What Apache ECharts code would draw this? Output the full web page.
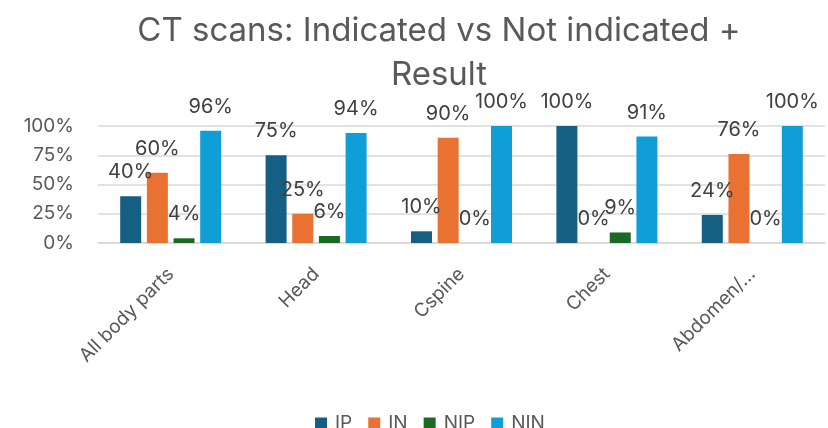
<!DOCTYPE html>
<html>
<head>
<meta charset="utf-8">
<script src="https://cdn.jsdelivr.net/npm/echarts@6/dist/echarts.min.js"></script>
<style>
html, body { margin: 0; padding: 0; background: #fff; }
#main { width: 828px; height: 428px; }
</style>
</head>
<body>
<div id="main"></div>
<script>
var categories = ['All body parts', 'Head', 'Cspine', 'Chest', 'Abdomen/…'];
var ipData = [40, 75, 10, 100, 24];
var inData = [60, 25, 90, 0, 76];
var nipData = [4, 6, 0, 9, 0];
var ninData = [96, 94, 100, 91, 100];
var yTicks = [0, 25, 50, 75, 100];

var font = 'Inter';
var colors = ['#156082', '#E97132', '#196B24', '#0F9ED5'];

function makeSeries(name, data) {
    return {
        name: name,
        type: 'bar',
        barWidth: 21,
        barGap: '27%',
        data: data,
        label: {
            show: true,
            position: 'top',
            distance: 14,
            formatter: '{c}%',
            fontFamily: font,
            fontSize: 20,
            color: '#404040'
        }
    };
}

var chart = echarts.init(document.getElementById('main'));
var option = {
    color: colors,
    animation: false,
    title: {
        text: 'CT scans: Indicated vs Not indicated +\nResult',
        left: 434,
        top: 4,
        textAlign: 'center',
        textStyle: {
            fontFamily: font,
            fontSize: 33,
            fontWeight: 'normal',
            color: '#595959',
            lineHeight: 44
        }
    },
    legend: {
        data: ['IP', 'IN', 'NIP', 'NIN'],
        left: 315,
        top: 414,
        padding: 0,
        icon: 'rect',
        itemWidth: 12,
        itemHeight: 12,
        itemGap: 16,
        textStyle: { fontFamily: font, fontSize: 19, color: '#595959', padding: [0, 0, 0, 3] }
    },
    grid: { left: 98, right: 3, top: 126, bottom: 185 },
    xAxis: {
        type: 'category',
        data: categories,
        axisLine: { lineStyle: { color: '#d9d9d9', width: 1.5 } },
        axisTick: { show: false },
        axisLabel: {
            rotate: 45,
            interval: 0,
            margin: 28,
            fontFamily: font,
            fontSize: 19,
            color: '#595959'
        }
    },
    yAxis: {
        type: 'value',
        min: yTicks[0],
        max: yTicks[yTicks.length - 1],
        interval: 25,
        axisLine: { show: false },
        axisTick: { show: false },
        splitLine: { lineStyle: { color: '#d9d9d9', width: 1.5 } },
        axisLabel: {
            formatter: '{value}%',
            margin: 24,
            fontFamily: font,
            fontSize: 19,
            color: '#595959'
        }
    },
    series: [
        makeSeries('IP', ipData),
        makeSeries('IN', inData),
        makeSeries('NIP', nipData),
        makeSeries('NIN', ninData)
    ]
};
chart.setOption(option);
</script>
</body>
</html>
